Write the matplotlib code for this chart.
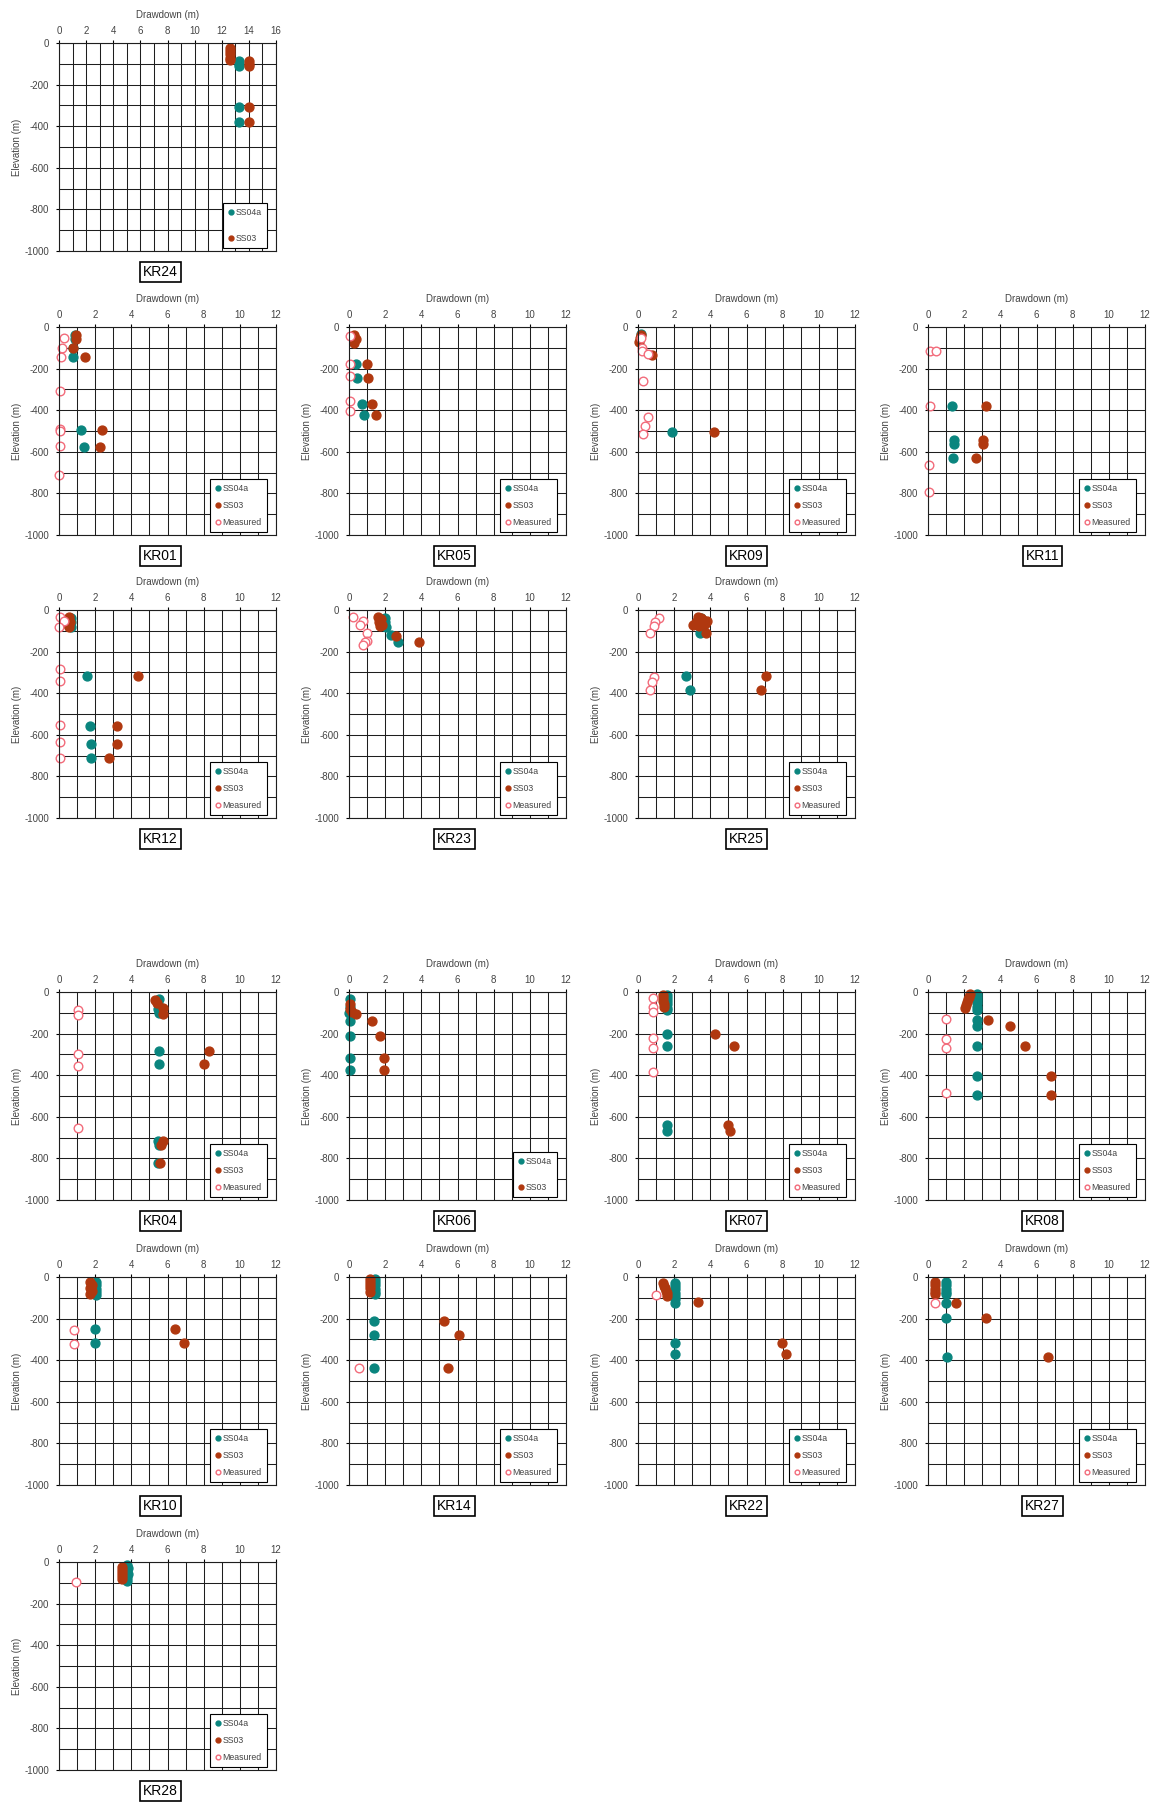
import matplotlib
matplotlib.use('Agg')
import matplotlib.pyplot as plt
from matplotlib.ticker import MultipleLocator

plt.rcParams['font.family'] = ['Liberation Sans', 'DejaVu Sans']
plt.rcParams['axes.unicode_minus'] = False

# pontos (drawdown m, elevação m) por furo e por simulação
KR24_SS04A = [(13.3, -85), (13.3, -100), (13.3, -112), (13.3, -308), (13.3, -380)]
KR24_SS03 = [(12.6, -25), (12.6, -40), (12.6, -55), (12.6, -70), (12.6, -82),
             (14.0, -85), (14.0, -100), (14.0, -112), (14.0, -308), (14.0, -380)]

KR01_SS04A = [(0.9, -40), (0.9, -60), (0.78, -100), (0.78, -144), (1.23, -494), (1.4, -577)]
KR01_SS03 = [(0.92, -38), (0.92, -59), (0.78, -100), (1.42, -144), (2.4, -494), (2.26, -577)]
KR01_MED = [(0.25, -54), (0.16, -100), (0.1, -144), (0.04, -306), (0.05, -490),
            (0.05, -500), (0.04, -574), (0.0, -710)]

KR05_SS04A = [(0.37, -179), (0.47, -244), (0.72, -370), (0.84, -423)]
KR05_SS03 = [(0.27, -40), (0.37, -56), (0.27, -77), (0.98, -179), (1.04, -244),
             (1.29, -370), (1.5, -423)]
KR05_MED = [(0.06, -43), (0.04, -179), (0.04, -236), (0.04, -356), (0.04, -404)]

KR09_SS04A = [(0.16, -32), (1.86, -506)]
KR09_SS03 = [(0.16, -40), (0.12, -55), (0.06, -72), (0.78, -136), (4.18, -506)]
KR09_MED = [(0.16, -53), (0.22, -99), (0.2, -116), (0.57, -132), (0.3, -258),
            (0.53, -431), (0.37, -474), (0.27, -514)]

KR11_SS04A = [(1.33, -380), (1.43, -542), (1.43, -561), (1.37, -630)]
KR11_SS03 = [(3.2, -380), (3.02, -542), (3.02, -561), (2.65, -630)]
KR11_MED = [(0.1, -115), (0.47, -115), (0.1, -380), (0.04, -665), (0.08, -794)]

KR12_SS04A = [(0.65, -40), (0.65, -60), (0.65, -80), (1.54, -319), (1.7, -558),
              (1.78, -644), (1.78, -711)]
KR12_SS03 = [(0.55, -35), (0.5, -50), (0.6, -60), (0.5, -72), (0.55, -80),
             (4.35, -319), (3.22, -558), (3.18, -644), (2.79, -711)]
KR12_MED = [(0.06, -35), (0.25, -53), (0.0, -80), (0.04, -284), (0.04, -340),
            (0.04, -554), (0.04, -637), (0.04, -711)]

KR23_SS04A = [(2.0, -40), (2.0, -60), (2.05, -80), (2.3, -120), (2.72, -152)]
KR23_SS03 = [(1.6, -35), (1.75, -45), (1.65, -60), (1.8, -70), (1.7, -78),
             (2.58, -124), (3.85, -152)]
KR23_MED = [(0.2, -35), (0.78, -53), (0.61, -72), (0.98, -112), (0.98, -149),
            (0.88, -156), (0.78, -169)]

KR25_SS04A = [(3.5, -40), (3.6, -70), (3.44, -110), (2.63, -319), (2.9, -383)]
KR25_SS03 = [(3.3, -35), (3.5, -40), (3.6, -50), (3.8, -55), (3.2, -60), (3.7, -65),
             (3.05, -72), (3.4, -78), (3.77, -110), (7.1, -319), (6.79, -383)]
KR25_MED = [(1.18, -40), (0.96, -56), (0.9, -79), (0.67, -112), (0.9, -324),
            (0.78, -348), (0.67, -383)]

KR04_SS04A = [(5.54, -32), (5.5, -60), (5.5, -80), (5.55, -100), (5.54, -283),
              (5.54, -344), (5.5, -715), (5.54, -736), (5.5, -821)]
KR04_SS03 = [(5.3, -37), (5.44, -51), (5.74, -75), (5.74, -104), (8.27, -283),
             (8.0, -344), (5.74, -715), (5.64, -736), (5.58, -821)]
KR04_MED = [(1.07, -88), (1.07, -112), (1.07, -299), (1.07, -355), (1.07, -656)]

KR06_SS04A = [(0.06, -35), (0.06, -72), (0.0, -99), (0.06, -139), (0.06, -213),
              (0.06, -315), (0.06, -376)]
KR06_SS03 = [(0.06, -56), (0.06, -80), (0.16, -96), (0.37, -104), (1.25, -139),
             (1.7, -213), (1.95, -315), (1.95, -376)]

KR07_SS04A = [(1.59, -15), (1.59, -30), (1.59, -45), (1.59, -60), (1.59, -75),
              (1.59, -85), (1.59, -203), (1.59, -261), (1.59, -640), (1.59, -669)]
KR07_SS03 = [(1.39, -15), (1.39, -30), (1.39, -45), (1.42, -58), (1.42, -70),
             (4.24, -203), (5.33, -261), (5.0, -640), (5.1, -669)]
KR07_MED = [(0.84, -29), (0.84, -72), (0.84, -96), (0.84, -221), (0.84, -267), (0.84, -384)]

KR08_SS04A = [(2.72, -10), (2.72, -25), (2.72, -40), (2.72, -55), (2.72, -70),
              (2.72, -85), (2.72, -136), (2.72, -165), (2.72, -261), (2.72, -405),
              (2.72, -493)]
KR08_SS03 = [(2.3, -8), (2.25, -22), (2.2, -35), (2.15, -50), (2.1, -62), (2.05, -75),
             (3.34, -136), (4.53, -165), (5.35, -261), (6.78, -405), (6.78, -493)]
KR08_MED = [(1.02, -128), (1.02, -224), (1.02, -267), (1.02, -485)]

KR10_SS04A = [(2.05, -24), (2.05, -40), (2.05, -56), (2.05, -72), (2.05, -88),
              (2.0, -249), (2.0, -316)]
KR10_SS03 = [(1.74, -24), (1.8, -38), (1.74, -52), (1.8, -66), (1.74, -80),
             (6.42, -249), (6.93, -316)]
KR10_MED = [(0.82, -257), (0.82, -321)]

KR14_SS04A = [(1.42, -8), (1.42, -24), (1.42, -40), (1.42, -56), (1.42, -72),
              (1.42, -80), (1.39, -213), (1.39, -281), (1.39, -438)]
KR14_SS03 = [(1.15, -10), (1.15, -25), (1.15, -40), (1.15, -55), (1.15, -70),
             (5.28, -213), (6.06, -281), (5.45, -438)]
KR14_MED = [(0.53, -438)]

KR22_SS04A = [(2.06, -30), (2.06, -45), (2.06, -60), (2.06, -75), (2.06, -90),
              (2.06, -105), (2.06, -125), (2.06, -316), (2.06, -369)]
KR22_SS03 = [(1.39, -29), (1.45, -42), (1.49, -53), (1.55, -65), (1.59, -78),
             (1.59, -93), (3.33, -120), (7.98, -316), (8.16, -369)]
KR22_MED = [(0.98, -88)]

KR27_SS04A = [(1.02, -24), (1.02, -40), (1.02, -56), (1.02, -72), (1.02, -80),
              (1.02, -125), (1.02, -197), (1.06, -385)]
KR27_SS03 = [(0.37, -24), (0.37, -40), (0.37, -56), (0.37, -72), (0.37, -80),
             (1.57, -125), (3.22, -197), (6.63, -385)]
KR27_MED = [(0.41, -125)]

KR28_SS04A = [(3.74, -16), (3.8, -30), (3.74, -45), (3.8, -60), (3.74, -75), (3.74, -89)]
KR28_SS03 = [(3.46, -24), (3.5, -38), (3.46, -52), (3.5, -66), (3.46, -80)]
KR28_MED = [(0.96, -97)]

# nome, linha, coluna, SS04a, SS03, medido, x máximo
paineis = [
    ('KR24', 0, 0, KR24_SS04A, KR24_SS03, None, 16),
    ('KR01', 1, 0, KR01_SS04A, KR01_SS03, KR01_MED, 12),
    ('KR05', 1, 1, KR05_SS04A, KR05_SS03, KR05_MED, 12),
    ('KR09', 1, 2, KR09_SS04A, KR09_SS03, KR09_MED, 12),
    ('KR11', 1, 3, KR11_SS04A, KR11_SS03, KR11_MED, 12),
    ('KR12', 2, 0, KR12_SS04A, KR12_SS03, KR12_MED, 12),
    ('KR23', 2, 1, KR23_SS04A, KR23_SS03, KR23_MED, 12),
    ('KR25', 2, 2, KR25_SS04A, KR25_SS03, KR25_MED, 12),
    ('KR04', 3, 0, KR04_SS04A, KR04_SS03, KR04_MED, 12),
    ('KR06', 3, 1, KR06_SS04A, KR06_SS03, None, 12),
    ('KR07', 3, 2, KR07_SS04A, KR07_SS03, KR07_MED, 12),
    ('KR08', 3, 3, KR08_SS04A, KR08_SS03, KR08_MED, 12),
    ('KR10', 4, 0, KR10_SS04A, KR10_SS03, KR10_MED, 12),
    ('KR14', 4, 1, KR14_SS04A, KR14_SS03, KR14_MED, 12),
    ('KR22', 4, 2, KR22_SS04A, KR22_SS03, KR22_MED, 12),
    ('KR27', 4, 3, KR27_SS04A, KR27_SS03, KR27_MED, 12),
    ('KR28', 5, 0, KR28_SS04A, KR28_SS03, KR28_MED, 12),
]

COR_SS04A = '#0a857e'
COR_SS03 = '#b0380f'
COR_MED = '#f26b7a'
COR_TEXTO = '#444444'

# posições em pixels da figura
W, H = 1160, 1805
col_left = [59, 349, 638, 928]
row_top = [43, 327, 610, 992, 1277, 1562]
larg, alt = 217, 208
label_dx = [-7, -3, 0, 6]

fig = plt.figure(figsize=(W / 100, H / 100), dpi=100)

for nome, lin, col, ss04a, ss03, medido, xmax in paineis:
    ax = fig.add_axes([col_left[col] / W, 1 - (row_top[lin] + alt) / H, larg / W, alt / H])

    x, y = zip(*ss04a)
    ax.plot(x, y, 'o', ms=6.4, color=COR_SS04A, mec=COR_SS04A, label='SS04a', clip_on=False)
    x, y = zip(*ss03)
    ax.plot(x, y, 'o', ms=6.4, color=COR_SS03, mec=COR_SS03, label='SS03', clip_on=False)
    if medido is not None:
        x, y = zip(*medido)
        ax.plot(x, y, 'o', ms=6.2, mfc='white', mec=COR_MED, mew=1.0,
                label='Measured', clip_on=False)

    ax.set_xlim(0, xmax)
    ax.set_ylim(-1000, 0)
    ax.xaxis.set_major_locator(MultipleLocator(2))
    ax.xaxis.set_minor_locator(MultipleLocator(1))
    ax.yaxis.set_major_locator(MultipleLocator(200))
    ax.yaxis.set_minor_locator(MultipleLocator(100))
    ax.set_axisbelow(True)
    ax.grid(True, which='both', color='#1e1e1e', linewidth=0.75)

    ax.xaxis.tick_top()
    ax.xaxis.set_label_position('top')
    ax.tick_params(which='major', length=2, width=0.8, labelsize=7, labelcolor=COR_TEXTO)
    ax.tick_params(which='minor', length=0)
    ax.tick_params(axis='x', pad=3)
    ax.tick_params(axis='y', pad=5)
    for s in ax.spines.values():
        s.set_linewidth(0.8)
        s.set_color('#1e1e1e')

    ax.set_xlabel('Drawdown (m)', fontsize=7, color=COR_TEXTO, labelpad=6)
    ax.set_ylabel('Elevation (m)', fontsize=7, color=COR_TEXTO, labelpad=2)

    n = 3 if medido is not None else 2
    leg = ax.legend(loc='lower right', bbox_to_anchor=(1 - 9 / larg, 3 / alt),
                    borderaxespad=0, fontsize=6.3, markerscale=0.55,
                    handlelength=0.5, handletextpad=0.3,
                    labelspacing=0.9 if n == 3 else 1.9, borderpad=0.6,
                    fancybox=False, edgecolor='black', framealpha=1)
    leg.get_frame().set_linewidth(0.8)
    for t in leg.get_texts():
        t.set_color(COR_TEXTO)

    ax.text(0.5 + label_dx[col] / larg, -21 / alt, nome, transform=ax.transAxes,
            ha='center', va='center', fontsize=10,
            bbox=dict(boxstyle='square,pad=0.2', fc='white', ec='black', lw=1.2))

fig.savefig('out.png', dpi=100)
